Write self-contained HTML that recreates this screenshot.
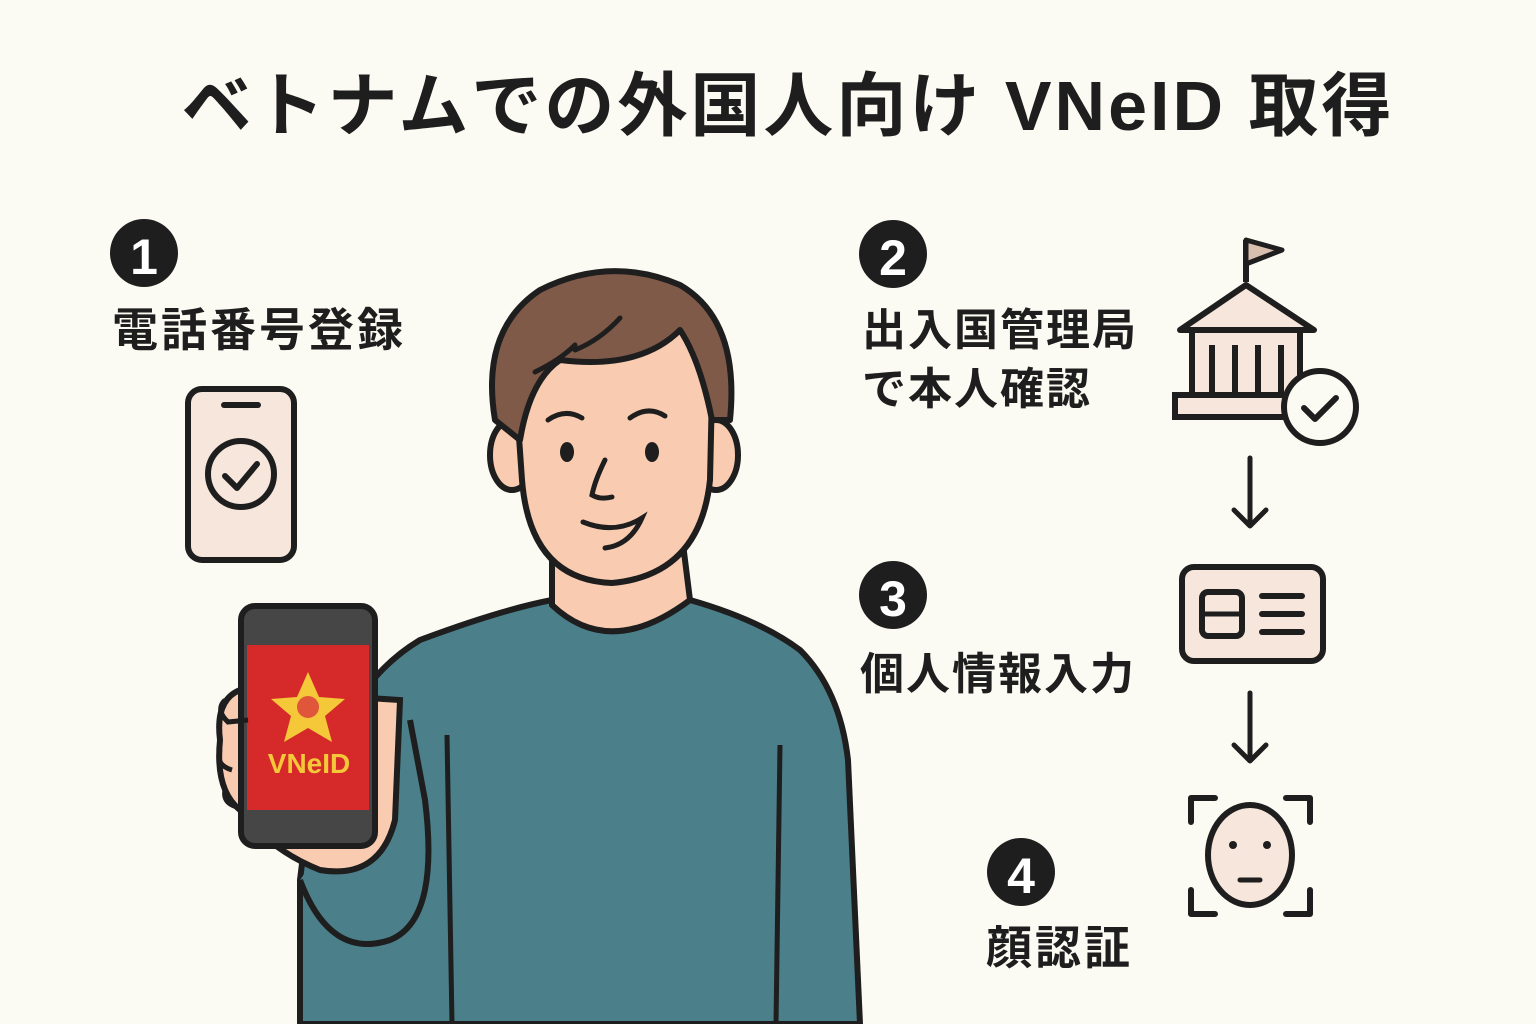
<!DOCTYPE html>
<html><head><meta charset="utf-8"><style>
html,body{margin:0;padding:0;background:#fcfbf3;}
svg{display:block}
text{font-family:"Liberation Sans","Noto Sans CJK JP",sans-serif;font-weight:bold;fill:#1e1e1e}
</style></head><body>
<svg width="1536" height="1024" viewBox="0 0 1536 1024" xmlns="http://www.w3.org/2000/svg">
<rect width="1536" height="1024" fill="#fcfbf3"/>
<text x="788" y="130" font-size="70" letter-spacing="3" text-anchor="middle">ベトナムでの外国人向け VNeID 取得</text>

<!-- step 1 -->
<circle cx="144" cy="253" r="34" fill="#1e1e1e"/>
<text x="144" y="274" font-size="50" text-anchor="middle" style="fill:#fff">1</text>
<text x="112" y="346" font-size="46" letter-spacing="3">電話番号登録</text>
<rect x="188" y="389" width="106" height="171" rx="14" fill="#f7e6dc" stroke="#1e1e1e" stroke-width="6"/>
<line x1="224" y1="405" x2="258" y2="405" stroke="#1e1e1e" stroke-width="6" stroke-linecap="round"/>
<circle cx="241" cy="474" r="33" fill="none" stroke="#1e1e1e" stroke-width="6"/>
<path d="M225 476 L237 488 L257 464" fill="none" stroke="#1e1e1e" stroke-width="6" stroke-linecap="round" stroke-linejoin="round"/>

<!-- person body -->
<path d="M300 1024 L300 880 Q320 700 420 640 Q500 610 552 600 L690 600 Q760 620 800 650 Q840 690 848 760 L860 1024 Z" fill="#4b7f8a" stroke="#1e1e1e" stroke-width="6"/>
<path d="M300 880 Q330 960 390 940 Q440 920 425 800 L410 720" fill="#4b7f8a" stroke="#1e1e1e" stroke-width="6"/>
<line x1="447" y1="735" x2="452" y2="1024" stroke="#1e1e1e" stroke-width="5"/>
<line x1="780" y1="745" x2="776" y2="1024" stroke="#1e1e1e" stroke-width="5"/>
<path d="M552 540 L552 605 Q610 660 690 600 L680 520 Z" fill="#f9cbb1" stroke="#1e1e1e" stroke-width="6"/>
<ellipse cx="512" cy="455" rx="22" ry="35" fill="#f9cbb1" stroke="#1e1e1e" stroke-width="6"/>
<ellipse cx="716" cy="455" rx="22" ry="35" fill="#f9cbb1" stroke="#1e1e1e" stroke-width="6"/>
<path d="M515 380 Q515 300 612 300 Q712 300 712 390 L710 480 Q700 575 612 583 Q530 580 522 480 Z" fill="#f9cbb1" stroke="#1e1e1e" stroke-width="6"/>
<path d="M495 420 Q480 330 540 290 Q610 255 680 285 Q740 320 730 420 L712 420 Q700 360 680 330 Q640 370 560 360 Q530 380 520 440 Z" fill="#805a48" stroke="#1e1e1e" stroke-width="6" stroke-linejoin="round"/>
<path d="M535 372 Q560 360 575 345 M575 350 Q600 340 620 318" fill="none" stroke="#1e1e1e" stroke-width="5" stroke-linecap="round"/>
<path d="M548 420 Q565 408 582 418" fill="none" stroke="#1e1e1e" stroke-width="5" stroke-linecap="round"/>
<path d="M630 418 Q648 405 665 416" fill="none" stroke="#1e1e1e" stroke-width="5" stroke-linecap="round"/>
<ellipse cx="567" cy="452" rx="7" ry="10" fill="#1e1e1e"/>
<ellipse cx="652" cy="452" rx="7" ry="10" fill="#1e1e1e"/>
<path d="M605 460 Q595 480 592 495 Q600 500 612 497" fill="none" stroke="#1e1e1e" stroke-width="5" stroke-linecap="round"/>
<path d="M583 522 Q615 535 642 518 Q630 545 605 548" fill="none" stroke="#1e1e1e" stroke-width="5" stroke-linecap="round"/>
<path d="M240 690 Q215 700 220 740 Q215 790 240 810 Q270 850 320 870 Q380 880 395 820 L400 700 Z" fill="#f9cbb1" stroke="#1e1e1e" stroke-width="6"/>
<rect x="241" y="606" width="134" height="240" rx="14" fill="#464646" stroke="#1e1e1e" stroke-width="6"/>
<rect x="247" y="645" width="122" height="165" fill="#d62a2a"/>
<polygon points="308,672 319,697 345,699 325,716 332,742 308,728 284,742 291,716 271,699 297,697" fill="#f4c838"/>
<circle cx="308" cy="707" r="11" fill="#e0563a"/>
<text x="309" y="773" font-size="28" text-anchor="middle" style="fill:#f4c838">VNeID</text>
<path d="M225 700 Q215 710 228 722 L248 720 M220 750 Q215 765 232 770 M225 790 Q222 805 242 808" fill="none" stroke="#1e1e1e" stroke-width="5"/>

<!-- step 2 -->
<circle cx="893" cy="254" r="34" fill="#1e1e1e"/>
<text x="893" y="275" font-size="50" text-anchor="middle" style="fill:#fff">2</text>
<text x="862" y="345" font-size="44" letter-spacing="2">出入国管理局</text>
<text x="862" y="404" font-size="44" letter-spacing="2">で本人確認</text>
<line x1="1246" y1="240" x2="1246" y2="282" stroke="#1e1e1e" stroke-width="6"/>
<path d="M1246 240 L1282 250 L1246 264 Z" fill="#d9bfae" stroke="#1e1e1e" stroke-width="5" stroke-linejoin="round"/>
<path d="M1180 330 L1246 285 L1314 330 Z" fill="#f7e6dc" stroke="#1e1e1e" stroke-width="6" stroke-linejoin="round"/>
<rect x="1192" y="330" width="108" height="65" fill="#f7e6dc" stroke="#1e1e1e" stroke-width="6"/>
<g stroke="#1e1e1e" stroke-width="6"><line x1="1212" y1="345" x2="1212" y2="392"/><line x1="1235" y1="345" x2="1235" y2="392"/><line x1="1258" y1="345" x2="1258" y2="392"/><line x1="1281" y1="345" x2="1281" y2="392"/></g>
<rect x="1175" y="395" width="140" height="22" fill="#f7e6dc" stroke="#1e1e1e" stroke-width="6"/>
<circle cx="1320" cy="407" r="36" fill="#fcfbf3" stroke="#1e1e1e" stroke-width="6"/>
<path d="M1304 408 L1315 419 L1336 398" fill="none" stroke="#1e1e1e" stroke-width="6" stroke-linecap="round" stroke-linejoin="round"/>
<g stroke="#1e1e1e" stroke-width="5" fill="none" stroke-linecap="round" stroke-linejoin="round">
<line x1="1250" y1="458" x2="1250" y2="525"/><path d="M1234 510 L1250 526 L1266 510"/>
<line x1="1250" y1="693" x2="1250" y2="760"/><path d="M1234 745 L1250 761 L1266 745"/>
</g>
<!-- step 3 -->
<circle cx="893" cy="595" r="34" fill="#1e1e1e"/>
<text x="893" y="616" font-size="50" text-anchor="middle" style="fill:#fff">3</text>
<text x="860" y="689" font-size="44" letter-spacing="2">個人情報入力</text>
<rect x="1182" y="567" width="141" height="94" rx="12" fill="#f7e6dc" stroke="#1e1e1e" stroke-width="6"/>
<rect x="1202" y="592" width="40" height="44" rx="6" fill="none" stroke="#1e1e1e" stroke-width="6"/>
<line x1="1202" y1="614" x2="1242" y2="614" stroke="#1e1e1e" stroke-width="5"/>
<g stroke="#1e1e1e" stroke-width="6" stroke-linecap="round"><line x1="1262" y1="596" x2="1302" y2="596"/><line x1="1262" y1="614" x2="1302" y2="614"/><line x1="1262" y1="632" x2="1302" y2="632"/></g>
<!-- step 4 -->
<circle cx="1021" cy="872" r="34" fill="#1e1e1e"/>
<text x="1021" y="893" font-size="50" text-anchor="middle" style="fill:#fff">4</text>
<text x="986" y="964" font-size="46" letter-spacing="3">顔認証</text>
<g stroke="#1e1e1e" stroke-width="6" fill="none" stroke-linecap="round" stroke-linejoin="round">
<path d="M1191 822 L1191 798 L1215 798"/><path d="M1286 798 L1310 798 L1310 822"/>
<path d="M1191 890 L1191 914 L1215 914"/><path d="M1286 914 L1310 914 L1310 890"/>
</g>
<ellipse cx="1250" cy="855" rx="42" ry="50" fill="#f7e6dc" stroke="#1e1e1e" stroke-width="6"/>
<circle cx="1233" cy="845" r="4" fill="#1e1e1e"/><circle cx="1267" cy="845" r="4" fill="#1e1e1e"/>
<line x1="1240" y1="880" x2="1260" y2="880" stroke="#1e1e1e" stroke-width="5" stroke-linecap="round"/>
</svg>
</body></html>
